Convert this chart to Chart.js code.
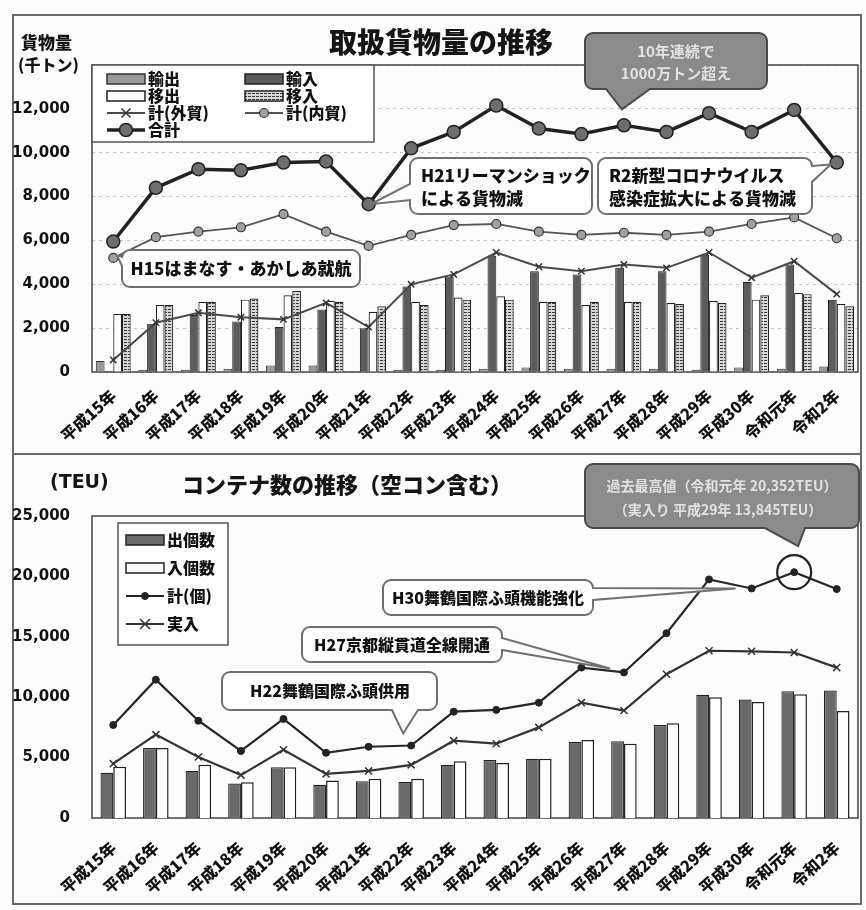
<!DOCTYPE html>
<html lang="ja">
<head>
<meta charset="utf-8">
<script src="https://cdn.jsdelivr.net/npm/chart.js@4.4.1/dist/chart.umd.min.js"></script>
<style>
body { margin: 0; background: #fff; }
#page { position: relative; width: 866px; height: 910px; background: #fdfdfd; overflow: hidden; font-family: 'Noto Sans CJK JP', sans-serif; }
canvas { position: absolute; left: 0; }
#cargo { top: 0; }
#boxes { top: 452px; }
.rule { position: absolute; background: #6a6a6a; }
.lbl { position: absolute; font-weight: 900; color: #151515; white-space: nowrap; line-height: 1; }
</style>
</head>
<body>
<div id="page">
  <div class="rule" style="left:12px;top:14px;width:850px;height:2px"></div>
  <div class="rule" style="left:12px;top:14px;width:2px;height:891px"></div>
  <div class="rule" style="left:860px;top:14px;width:2px;height:891px"></div>
  <div class="rule" style="left:12px;top:453px;width:850px;height:2px"></div>
  <div class="rule" style="left:12px;top:903px;width:850px;height:2px"></div>

  <canvas id="cargo" width="866" height="452"></canvas>
  <canvas id="boxes" width="866" height="458"></canvas>

  <div class="lbl" style="left:21px;top:33px;font-size:17px">貨物量</div>
  <div class="lbl" style="left:18px;top:56px;font-size:16px">(千トン)</div>
  <div class="lbl" style="left:329px;top:27px;font-size:28px">取扱貨物量の推移</div>
  <div class="lbl" style="left:50px;top:472px;font-size:19px;font-family:'DejaVu Sans'">(TEU)</div>
  <div class="lbl" style="left:182px;top:472px;font-size:22px">コンテナ数の推移（空コン含む）</div>
</div>

<script>
const years = ['平成15年', '平成16年', '平成17年', '平成18年', '平成19年', '平成20年', '平成21年', '平成22年', '平成23年',
    '平成24年', '平成25年', '平成26年', '平成27年', '平成28年', '平成29年', '平成30年', '令和元年', '令和2年'];

// 取扱貨物量（千トン）
const exportsT = [500, 100, 100, 150, 300, 300, 50, 100, 100, 150, 200, 150, 150, 150, 100, 200, 150, 250];
const importsT = [50, 2200, 2600, 2300, 2050, 2850, 2000, 3900, 4350, 5300, 4600, 4450, 4750, 4600, 5350, 4100, 4900, 3300];
const outboundT = [2650, 3050, 3200, 3300, 3500, 3250, 2750, 3200, 3400, 3450, 3200, 3050, 3200, 3150, 3250, 3300, 3600, 3100];
const inboundT = [2650, 3050, 3200, 3350, 3700, 3200, 3000, 3050, 3300, 3300, 3200, 3200, 3200, 3100, 3150, 3500, 3550, 3000];
const foreignTotal = [550, 2250, 2700, 2500, 2400, 3150, 2050, 4000, 4450, 5450, 4800, 4600, 4900, 4750, 5450, 4300, 5050, 3550];
const domesticTotal = [5200, 6150, 6400, 6600, 7200, 6400, 5750, 6250, 6700, 6750, 6400, 6250, 6350, 6250, 6400, 6750, 7050, 6100];
const grandTotal = [5950, 8400, 9250, 9200, 9550, 9600, 7650, 10200, 10950, 12150, 11100, 10850, 11250, 10950, 11800, 10950, 11950, 9550];

// コンテナ数（TEU）
const containerOut = [3750, 5800, 3900, 2850, 4200, 2750, 3050, 3000, 4400, 4800, 4900, 6300, 6350, 7700, 10200, 9800, 10500, 10550];
const containerIn = [4250, 5800, 4400, 2950, 4200, 3100, 3250, 3250, 4700, 4550, 4900, 6450, 6150, 7850, 10000, 9600, 10250, 8850];
const containerTotal = [7700, 11450, 8050, 5550, 8200, 5400, 5900, 6000, 8800, 8950, 9550, 12450, 12050, 15300, 19750, 19000, 20352, 18950];
const containerLaden = [4500, 6900, 5050, 3550, 5650, 3650, 3900, 4400, 6400, 6150, 7500, 9550, 8900, 11900, 13845, 13800, 13700, 12450];

const cargoTicks = [0, 2000, 4000, 6000, 8000, 10000, 12000];
const boxTicks = [0, 5000, 10000, 15000, 20000, 25000];

const JP = "'Noto Sans CJK JP', sans-serif";
const NUM = "'DejaVu Sans', sans-serif";

function stripes(ctx) {
    const c = document.createElement('canvas');
    c.width = 4; c.height = 3;
    const g = c.getContext('2d');
    g.fillStyle = '#d6d6d6';
    g.fillRect(0, 0, 4, 3);
    g.fillStyle = '#3a3a3a';
    g.fillRect(0, 0, 3, 1);
    return ctx.createPattern(c, 'repeat');
}

function marker(ctx, style, x, y, r, fill, stroke, lw) {
    ctx.save();
    ctx.lineWidth = lw;
    ctx.strokeStyle = stroke;
    ctx.fillStyle = fill;
    ctx.beginPath();
    if (style === 'crossRot') {
        ctx.moveTo(x - r, y - r); ctx.lineTo(x + r, y + r);
        ctx.moveTo(x + r, y - r); ctx.lineTo(x - r, y + r);
        ctx.stroke();
    } else {
        ctx.arc(x, y, r, 0, Math.PI * 2);
        ctx.fill();
        ctx.stroke();
    }
    ctx.restore();
}

// rounded box with a pointer on one side
function calloutPath(ctx, x, y, w, h, r, side, b1, b2, tx, ty) {
    ctx.beginPath();
    ctx.moveTo(x + r, y);
    if (side === 'top') { ctx.lineTo(b1, y); ctx.lineTo(tx, ty); ctx.lineTo(b2, y); }
    ctx.lineTo(x + w - r, y);
    ctx.arcTo(x + w, y, x + w, y + r, r);
    if (side === 'right') { ctx.lineTo(x + w, b1); ctx.lineTo(tx, ty); ctx.lineTo(x + w, b2); }
    ctx.lineTo(x + w, y + h - r);
    ctx.arcTo(x + w, y + h, x + w - r, y + h, r);
    if (side === 'bottom') { ctx.lineTo(b2, y + h); ctx.lineTo(tx, ty); ctx.lineTo(b1, y + h); }
    ctx.lineTo(x + r, y + h);
    ctx.arcTo(x, y + h, x, y + h - r, r);
    if (side === 'left') { ctx.lineTo(x, b2); ctx.lineTo(tx, ty); ctx.lineTo(x, b1); }
    ctx.lineTo(x, y + r);
    ctx.arcTo(x, y, x + r, y, r);
    ctx.closePath();
}

function drawCallouts(chart, list) {
    const ctx = chart.ctx;
    list.forEach(c => {
        const p = chart.getDatasetMeta(c.ds).data[c.idx];
        const tx = p.x + c.dx, ty = p.y + c.dy;
        ctx.save();
        calloutPath(ctx, c.x, c.y, c.w, c.h, 8, c.side, c.b1, c.b2, tx, ty);
        ctx.fillStyle = c.fill || '#fff';
        ctx.fill();
        ctx.lineWidth = 2;
        ctx.strokeStyle = c.stroke || '#707070';
        ctx.stroke();
        ctx.fillStyle = c.color || '#111';
        ctx.font = c.font || `900 17px ${JP}`;
        ctx.textBaseline = 'middle';
        ctx.textAlign = c.align || 'center';
        c.lines.forEach(([t, lx, ly]) => ctx.fillText(t, lx, ly));
        ctx.restore();
    });
}

function drawLegend(chart, box, items) {
    const ctx = chart.ctx;
    const sets = chart.data.datasets;
    ctx.save();
    ctx.fillStyle = '#fff';
    ctx.fillRect(box.x, box.y, box.w, box.h);
    ctx.lineWidth = 1.5;
    ctx.strokeStyle = '#555';
    ctx.strokeRect(box.x, box.y, box.w, box.h);
    ctx.font = `900 16px ${JP}`;
    ctx.textBaseline = 'middle';
    ctx.textAlign = 'left';
    items.forEach(([i, x, y]) => {
        const ds = sets[i];
        if (ds.type === 'line') {
            ctx.strokeStyle = ds.borderColor;
            ctx.lineWidth = ds.borderWidth;
            ctx.beginPath();
            ctx.moveTo(x, y); ctx.lineTo(x + 38, y);
            ctx.stroke();
            marker(ctx, ds.pointStyle, x + 19, y, ds.pointRadius, ds.pointBackgroundColor, ds.pointBorderColor, ds.pointBorderWidth);
        } else {
            ctx.fillStyle = ds.backgroundColor;
            ctx.fillRect(x, y - 5, 38, 10);
            ctx.strokeStyle = ds.borderColor;
            ctx.lineWidth = 1.5;
            ctx.strokeRect(x, y - 5, 38, 10);
        }
        ctx.fillStyle = '#111';
        ctx.fillText(ds.label, x + 41, y);
    });
    ctx.restore();
}

const frame = {
    id: 'frame',
    beforeDatasetsDraw(chart) {
        const a = chart.chartArea, ctx = chart.ctx;
        ctx.save();
        ctx.lineWidth = 1.5;
        ctx.strokeStyle = '#444';
        ctx.strokeRect(a.left, a.top, a.right - a.left, a.bottom - a.top);
        ctx.restore();
    }
};

Chart.defaults.font.family = JP;
Chart.defaults.color = '#111';

function xAxis(height, padding) {
    return {
        grid: { display: false },
        border: { display: false },
        ticks: {
            font: { size: 16, weight: '900', family: JP },
            color: '#111', minRotation: 42, maxRotation: 42, padding: padding, autoSkip: false
        },
        afterFit(scale) { scale.height = height; }
    };
}

function yAxis(max, step, ticks, showGrid) {
    return {
        min: 0, max: max,
        grid: { display: showGrid, color: 'rgba(0,0,0,0.22)', drawTicks: false },
        border: { display: false, dash: [3, 4] },
        ticks: {
            stepSize: step, padding: 22, color: '#111',
            font: { size: 15, weight: 'bold', family: NUM },
            callback: v => ticks.includes(v) ? v.toLocaleString('en-US') : ''
        },
        afterFit(scale) { scale.width = 92; }
    };
}

const cargoCtx = document.getElementById('cargo').getContext('2d');

const cargoNotes = {
    id: 'cargoNotes',
    afterDatasetsDraw(chart) {
        drawLegend(chart, { x: 92, y: 65, w: 282, h: 77 }, [
            [0, 107, 79], [1, 245, 79], [2, 107, 96], [3, 245, 96], [4, 107, 113], [5, 245, 113], [6, 107, 130]
        ]);
        drawCallouts(chart, [
            { ds: 5, idx: 0, dx: 4, dy: -2, x: 122, y: 250, w: 238, h: 37, side: 'left', b1: 256, b2: 266,
              lines: [['H15はまなす・あかしあ就航', 241, 269]] },
            { ds: 6, idx: 6, dx: 2, dy: 0, x: 410, y: 158, w: 182, h: 56, side: 'left', b1: 184, b2: 200,
              align: 'left', lines: [['H21リーマンショック', 421, 176], ['による貨物減', 421, 199]] },
            { ds: 6, idx: 17, dx: -6, dy: 2, x: 598, y: 158, w: 214, h: 56, side: 'right', b1: 166, b2: 182,
              align: 'left', lines: [['R2新型コロナウイルス', 609, 176], ['感染症拡大による貨物減', 609, 199]] },
            { ds: 6, idx: 12, dx: -2, dy: -16, x: 585, y: 33, w: 182, h: 56, side: 'bottom', b1: 606, b2: 650,
              fill: '#8b8b8b', stroke: '#4a4a4a', color: '#e2e2e2', font: `bold 15px ${JP}`,
              lines: [['10年連続で', 676, 51], ['1000万トン超え', 676, 73]] }
        ]);
    }
};

new Chart(cargoCtx, {
    type: 'bar',
    data: {
        labels: years,
        datasets: [
            { label: '輸出', data: exportsT, backgroundColor: '#9a9a9a', borderColor: '#333', borderWidth: 1, order: 2 },
            { label: '輸入', data: importsT, backgroundColor: '#5c5c5c', borderColor: '#222', borderWidth: 1, order: 2 },
            { label: '移出', data: outboundT, backgroundColor: '#ffffff', borderColor: '#222', borderWidth: 1.2, order: 2 },
            { label: '移入', data: inboundT, backgroundColor: stripes(cargoCtx), borderColor: '#222', borderWidth: 1.2, order: 2 },
            { type: 'line', label: '計(外貿)', data: foreignTotal, borderColor: '#4a4a4a', borderWidth: 2,
              pointStyle: 'crossRot', pointRadius: 4.5, pointBorderColor: '#333', pointBackgroundColor: '#333',
              pointBorderWidth: 1.5, order: 1 },
            { type: 'line', label: '計(内貿)', data: domesticTotal, borderColor: '#555', borderWidth: 1.8,
              pointStyle: 'circle', pointRadius: 4.5, pointBorderColor: '#333', pointBackgroundColor: '#a0a0a0',
              pointBorderWidth: 1.2, order: 1 },
            { type: 'line', label: '合計', data: grandTotal, borderColor: '#222', borderWidth: 3.5,
              pointStyle: 'circle', pointRadius: 6.5, pointBorderColor: '#222', pointBackgroundColor: '#6e6e6e',
              pointBorderWidth: 1.5, order: 0 }
        ]
    },
    options: {
        responsive: false,
        animation: false,
        events: [],
        layout: { padding: { top: 65, right: 2, left: 0, bottom: 0 } },
        datasets: { bar: { categoryPercentage: 0.82, barPercentage: 1 } },
        plugins: { legend: { display: false }, tooltip: { enabled: false } },
        scales: {
            x: xAxis(80, 6),
            y: yAxis(14000, 2000, cargoTicks, true)
        }
    },
    plugins: [frame, cargoNotes]
});

const boxCtx = document.getElementById('boxes').getContext('2d');

const boxNotes = {
    id: 'boxNotes',
    afterDatasetsDraw(chart) {
        drawLegend(chart, { x: 118, y: 71, w: 110, h: 122 }, [
            [0, 126, 88], [1, 126, 116], [2, 126, 144], [3, 126, 172]
        ]);
        drawCallouts(chart, [
            { ds: 2, idx: 7, dx: -8, dy: -12, x: 222, y: 220, w: 215, h: 38, side: 'bottom', b1: 392, b2: 418,
              font: `900 16px ${JP}`, lines: [['H22舞鶴国際ふ頭供用', 330, 239]] },
            { ds: 2, idx: 12, dx: -14, dy: -4, x: 302, y: 175, w: 200, h: 35, side: 'right', b1: 186, b2: 198,
              font: `900 16px ${JP}`, lines: [['H27京都縦貫道全線開通', 402, 193]] },
            { ds: 2, idx: 15, dx: -16, dy: 0, x: 383, y: 128, w: 210, h: 35, side: 'right', b1: 136, b2: 148,
              font: `900 16px ${JP}`, lines: [['H30舞鶴国際ふ頭機能強化', 488, 146]] },
            { ds: 2, idx: 16, dx: 4, dy: -26, x: 585, y: 12, w: 274, h: 64, side: 'bottom', b1: 765, b2: 805,
              fill: '#8b8b8b', stroke: '#4a4a4a', color: '#e2e2e2', font: `bold 14px ${JP}`,
              lines: [['過去最高値（令和元年 20,352TEU）', 722, 34], ['（実入り 平成29年 13,845TEU）', 718, 58]] }
        ]);
        // ring around the record year
        const p = chart.getDatasetMeta(2).data[16];
        const ctx = chart.ctx;
        ctx.save();
        ctx.lineWidth = 2.2;
        ctx.strokeStyle = '#222';
        ctx.beginPath();
        ctx.arc(p.x, p.y, 17, 0, Math.PI * 2);
        ctx.stroke();
        ctx.restore();
    }
};

new Chart(boxCtx, {
    type: 'bar',
    data: {
        labels: years,
        datasets: [
            { label: '出個数', data: containerOut, backgroundColor: '#6a6a6a', borderColor: '#222', borderWidth: 1.2, order: 2 },
            { label: '入個数', data: containerIn, backgroundColor: '#ffffff', borderColor: '#222', borderWidth: 1.5, order: 2 },
            { type: 'line', label: '計(個)', data: containerTotal, borderColor: '#262626', borderWidth: 2.2,
              pointStyle: 'circle', pointRadius: 3.5, pointBorderColor: '#222', pointBackgroundColor: '#222',
              pointBorderWidth: 1, order: 0 },
            { type: 'line', label: '実入', data: containerLaden, borderColor: '#333', borderWidth: 2.2,
              pointStyle: 'crossRot', pointRadius: 5, pointBorderColor: '#333', pointBackgroundColor: '#333',
              pointBorderWidth: 1.5, order: 1 }
        ]
    },
    options: {
        responsive: false,
        animation: false,
        events: [],
        layout: { padding: { top: 64, right: 8, left: 0, bottom: 0 } },
        datasets: { bar: { categoryPercentage: 0.6, barPercentage: 1 } },
        plugins: { legend: { display: false }, tooltip: { enabled: false } },
        scales: {
            x: xAxis(92, 12),
            y: yAxis(25000, 5000, boxTicks, false)
        }
    },
    plugins: [frame, boxNotes]
});
</script>
</body>
</html>
